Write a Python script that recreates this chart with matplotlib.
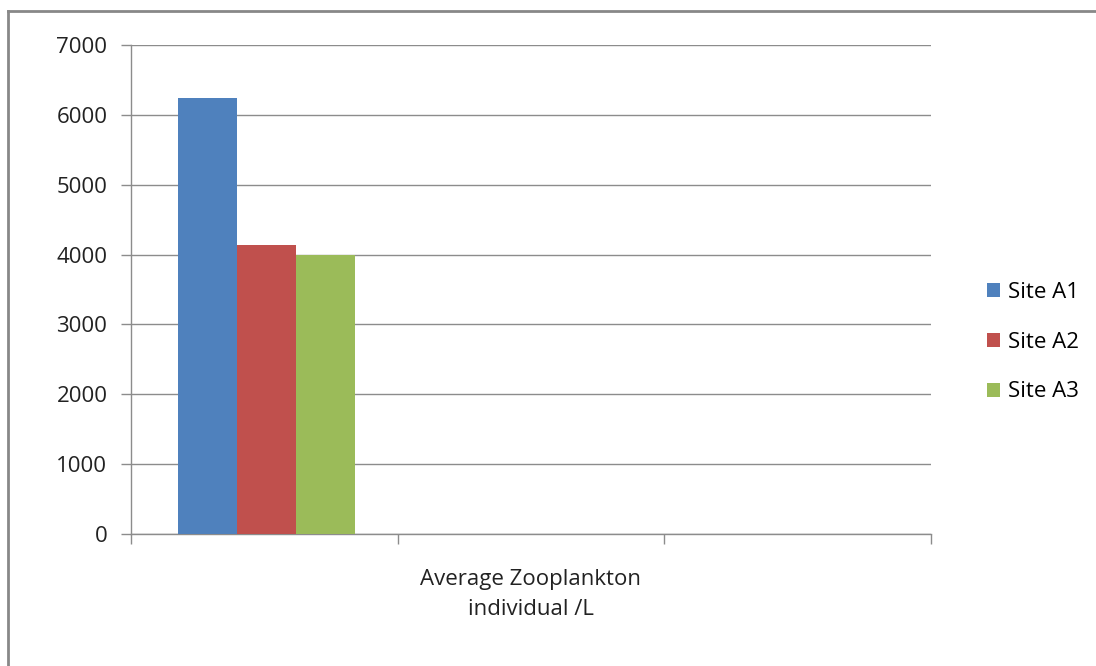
import matplotlib
matplotlib.use("Agg")
import matplotlib.pyplot as plt
from matplotlib.patches import Patch
from matplotlib.lines import Line2D

series = ["Site A1", "Site A2", "Site A3"]
values = [6240, 4135, 4000]
colors = ["#4F81BD", "#C0504D", "#9BBB59"]
categories = ["", "Average Zooplankton\nindividual /L", ""]
yticks = [0, 1000, 2000, 3000, 4000, 5000, 6000, 7000]

plt.rcParams['font.family'] = ['Open Sans', 'DejaVu Sans']
FS = 16

W, H = 1096, 666
fig = plt.figure(figsize=(W/100, H/100), dpi=100)
ax = fig.add_axes([131/W, 1-534/H, 800/W, 489/H])

bw = 0.221
for i, (s, v, c) in enumerate(zip(series, values, colors)):
    ax.bar(0.007 + (i-1)*bw, v, width=bw, color=c, label=s, zorder=3)

ax.set_xlim(-0.5, 2.5)
ax.set_ylim(0, 7000)
ax.set_yticks(yticks)
ax.set_yticklabels([str(t) for t in yticks], fontsize=FS, color="#222222")
ax.yaxis.grid(True, color="#8C8C8C", linewidth=1.0, zorder=0)
ax.set_xticks([-0.5, 0.5, 1.5, 2.5])
ax.set_xticklabels([])
ax.set_xticks(range(len(categories)), minor=True)
ax.set_xticklabels(categories, minor=True, fontsize=FS, color="#222222", linespacing=1.55)
ax.tick_params(axis='x', which='minor', length=0, pad=25)
ax.tick_params(axis='x', which='major', length=7, color="#8C8C8C", width=1)
ax.tick_params(axis='y', length=7, color="#8C8C8C", width=1, pad=10)
for sp in ['top', 'right']:
    ax.spines[sp].set_visible(False)
for sp in ['left', 'bottom']:
    ax.spines[sp].set_color("#8C8C8C")
    ax.spines[sp].set_linewidth(1.0)

handles = [Patch(facecolor=c, edgecolor='none') for c in colors]
fig.legend(handles, series, loc='center left', bbox_to_anchor=(967/W, 1-342/H),
           frameon=False, handlelength=0.6, handleheight=0.6,
           labelspacing=1.3, handletextpad=0.35, prop={'size': FS})

# outer border
fig.add_artist(Line2D([8/W, 8/W], [0, 1-11/H], transform=fig.transFigure, color="#888888", linewidth=2))
fig.add_artist(Line2D([8/W, 1], [1-11/H, 1-11/H], transform=fig.transFigure, color="#888888", linewidth=2))

fig.savefig("out.png", dpi=100)
